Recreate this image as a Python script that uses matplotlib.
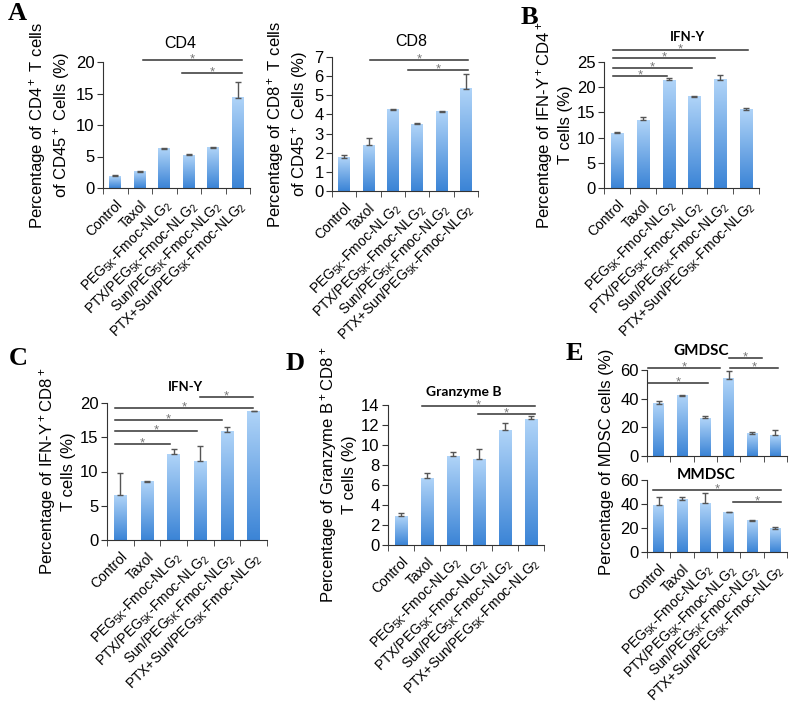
import numpy as np
import matplotlib
matplotlib.use("Agg")
import matplotlib.pyplot as plt
from matplotlib.colors import LinearSegmentedColormap

plt.rcParams['font.family'] = ['Liberation Sans', 'DejaVu Sans']
plt.rcParams['mathtext.default'] = 'regular'

W, H = 800, 707

groups = ['Control', 'Taxol',
          'PEG$_{5K}$-Fmoc-NLG$_2$',
          'PTX/PEG$_{5K}$-Fmoc-NLG$_2$',
          'Sun/PEG$_{5K}$-Fmoc-NLG$_2$',
          'PTX+Sun/PEG$_{5K}$-Fmoc-NLG$_2$']

# panel A
cd4_vals = [1.9, 2.6, 6.2, 5.2, 6.4, 14.3]
cd4_errs = [0.1, 0.1, 0.2, 0.2, 0.1, 2.5]
cd8_vals = [1.75, 2.4, 4.25, 3.5, 4.15, 5.35]
cd8_errs = [0.15, 0.35, 0.05, 0.03, 0.03, 0.75]
# panel B
ifn_cd4_vals = [10.9, 13.4, 21.4, 18.1, 21.5, 15.5]
ifn_cd4_errs = [0.3, 0.6, 0.4, 0.1, 1.0, 0.4]
# panel C
ifn_cd8_vals = [6.5, 8.5, 12.5, 11.5, 15.8, 18.8]
ifn_cd8_errs = [3.3, 0.1, 0.8, 2.2, 0.7, 0.1]
# panel D
gzb_vals = [2.9, 6.7, 8.9, 8.6, 11.5, 12.6]
gzb_errs = [0.3, 0.5, 0.4, 1.0, 0.7, 0.3]
# panel E
gmdsc_vals = [36.5, 42.0, 26.5, 54.0, 15.5, 14.5]
gmdsc_errs = [2.0, 0.8, 1.5, 5.0, 1.5, 3.5]
mmdsc_vals = [39.0, 43.5, 40.5, 33.0, 26.0, 19.5]
mmdsc_errs = [7.0, 2.0, 8.5, 0.5, 1.0, 1.5]

# significance brackets: (x start, x end, height)
cd4_sig = [(1.15, 5.17, 20.3), (2.73, 5.17, 18.3)]
cd8_sig = [(1.06, 5.09, 6.84), (2.62, 5.09, 6.32)]
ifn_cd4_sig = [(-0.15, 5.07, 27.4), (-0.15, 3.8, 25.8), (-0.15, 2.9, 23.8), (-0.15, 1.94, 22.2)]
ifn_cd8_sig = [(-0.2, 1.86, 14.0), (-0.2, 2.87, 15.9), (-0.2, 3.81, 17.5),
               (-0.2, 4.97, 19.3), (2.99, 4.97, 20.9)]
gzb_sig = [(0.81, 5.15, 13.9), (2.96, 5.15, 13.1)]
gmdsc_sig = [(-0.46, 2.63, 61.4), (-0.46, 2.11, 51.0), (3.0, 4.43, 68.4), (3.06, 5.11, 61.4)]
mmdsc_sig = [(-0.24, 5.24, 51.7), (3.19, 5.24, 41.7)]

cmap = LinearSegmentedColormap.from_list('bar', ['#3b84d6', '#b0d4f8'])
grad = np.linspace(1, 0, 256).reshape(-1, 1)


def rect(x0, x1, ytop, ybot):
    return [x0 / W, 1 - ybot / H, (x1 - x0) / W, (ybot - ytop) / H]


def bar_panel(fig, pos, vals, errs, ymax, ystep, sigs, labels=True):
    ax = fig.add_axes(pos)
    x = np.arange(len(vals))
    bars = ax.bar(x, vals, width=0.47, color='none', edgecolor='none', zorder=2)
    # vertical gradient inside each bar
    for b in bars:
        x0, w, h = b.get_x(), b.get_width(), b.get_height()
        ax.imshow(grad, extent=[x0, x0 + w, 0, h], aspect='auto', cmap=cmap,
                  vmin=0, vmax=1, zorder=2)
    ax.errorbar(x, vals, yerr=[np.zeros(len(errs)), errs], fmt='none',
                ecolor='#555555', elinewidth=1, capsize=2.5, capthick=1, zorder=3)
    ax.set_xlim(-0.5, len(vals) - 0.5)
    ax.set_ylim(0, ymax)
    ax.set_yticks(np.arange(0, ymax + 0.01, ystep))
    ax.set_xticks(x)
    if labels:
        ax.set_xticklabels(groups, rotation=45, ha='right', rotation_mode='anchor',
                           fontsize=10)
    else:
        ax.set_xticklabels([])
    ax.set_xticks(np.arange(-0.5, len(vals)), minor=True)
    ax.tick_params(axis='x', which='major', length=0, pad=7)
    ax.tick_params(axis='x', which='minor', length=4, direction='out', color='#333333')
    ax.tick_params(axis='y', length=4, direction='out', color='#333333', labelsize=12,
                   pad=2)
    for s in ['top', 'right']:
        ax.spines[s].set_visible(False)
    for s in ['left', 'bottom']:
        ax.spines[s].set_color('#333333')
    for x0, x1, y in sigs:
        ax.plot([x0, x1], [y, y], color='#333333', lw=1.1, clip_on=False)
        ax.annotate('*', ((x0 + x1) / 2, y), xytext=(0, -2), textcoords='offset points',
                    ha='center', va='baseline', color='#777777', fontsize=9.5,
                    annotation_clip=False)
    return ax


fig = plt.figure(figsize=(8, 7.07), dpi=100)

ax = bar_panel(fig, rect(103, 250, 62, 188), cd4_vals, cd4_errs, 20, 5, cd4_sig)
ax.set_ylabel('Percentage of CD4$^+$ T cells\nof CD45$^+$ Cells (%)', fontsize=12,
              labelpad=3)

ax = bar_panel(fig, rect(332, 478, 57, 191), cd8_vals, cd8_errs, 7, 1, cd8_sig)
ax.set_ylabel('Percentage of CD8$^+$ T cells\nof CD45$^+$ Cells (%)', fontsize=12,
              labelpad=3)

ax = bar_panel(fig, rect(604, 759, 62, 188), ifn_cd4_vals, ifn_cd4_errs, 25, 5, ifn_cd4_sig)
ax.set_ylabel('Percentage of IFN-Y$^+$CD4$^+$\nT cells (%)', fontsize=12, labelpad=3)

ax = bar_panel(fig, rect(107, 267, 403, 540), ifn_cd8_vals, ifn_cd8_errs, 20, 5, ifn_cd8_sig)
ax.set_ylabel('Percentage of IFN-Y$^+$CD8$^+$\nT cells (%)', fontsize=12, labelpad=3)

ax = bar_panel(fig, rect(388, 544, 405, 545), gzb_vals, gzb_errs, 14, 2, gzb_sig)
ax.set_ylabel('Percentage of Granzyme B$^+$CD8$^+$\nT cells (%)', fontsize=12, labelpad=3)

bar_panel(fig, rect(647, 787, 370, 456), gmdsc_vals, gmdsc_errs, 60, 20, gmdsc_sig, labels=False)
bar_panel(fig, rect(647, 787, 480, 552), mmdsc_vals, mmdsc_errs, 60, 20, mmdsc_sig)
fig.text(607 / W, 1 - 462 / H, 'Percentage of MDSC cells (%)', rotation=90,
         ha='center', va='center', fontsize=12)

# panel titles
fig.text(180 / W, 1 - 44 / H, 'CD4', ha='center', va='center', fontsize=11.5)
fig.text(411 / W, 1 - 41 / H, 'CD8', ha='center', va='center', fontsize=11.5)
bold = dict(ha='center', va='center', fontweight='bold', family=['Lato', 'DejaVu Sans'])
fig.text(687 / W, 1 - 37 / H, 'IFN-Y', fontsize=9.5, **bold)
fig.text(185 / W, 1 - 387 / H, 'IFN-Y', fontsize=9.5, **bold)
fig.text(464 / W, 1 - 392 / H, 'Granzyme B', fontsize=10, **bold)
fig.text(701 / W, 1 - 351 / H, 'GMDSC', fontsize=11, **bold)
fig.text(706 / W, 1 - 475 / H, 'MMDSC', fontsize=11, **bold)

# panel letters
serif = dict(ha='center', va='center', fontweight='bold', fontsize=19,
             family=['Liberation Serif', 'DejaVu Serif'])
for letter, px, py in [('A', 17, 14), ('B', 529, 17), ('C', 18, 358),
                       ('D', 295, 363), ('E', 574, 353)]:
    fig.text(px / W, 1 - py / H, letter, **serif)

fig.savefig('out.png', dpi=100)
